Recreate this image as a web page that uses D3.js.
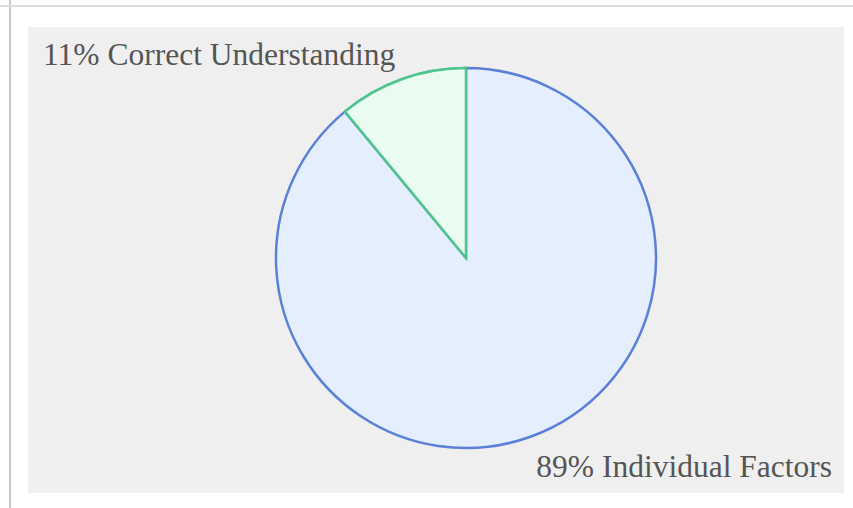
<!DOCTYPE html>
<html>
<head>
<meta charset="utf-8">
<script src="https://cdn.jsdelivr.net/npm/d3@7"></script>
<style>
	body { margin: 0; background: #fff; }
	.label { font-family: "Liberation Serif", "DejaVu Serif", serif; font-size: 31.5px; fill: #555; }
</style>
</head>
<body>
<svg id="chart" width="853" height="508"></svg>
<script>
'use strict';

var categories = ["Correct Understanding", "Individual Factors"];
var percents = [11, 89];
var FILLS = ["#eafbf1", "#e5eefc"];
var STROKES = ["#4fc48e", "#5a80d8"];

var svg = d3.select("#chart");

// outer frame and grey panel
svg.append("line").attr("x1", 10).attr("x2", 10).attr("y1", 0).attr("y2", 508)
	.attr("stroke", "#c8c8c8").attr("stroke-width", 2);
svg.append("line").attr("x1", 0).attr("x2", 853).attr("y1", 6).attr("y2", 6)
	.attr("stroke", "#dedede").attr("stroke-width", 2);
svg.append("rect").attr("x", 28).attr("y", 27).attr("width", 816).attr("height", 466)
	.attr("fill", "#efefef");

var cx = 466, cy = 258, radius = 190;

var pie = d3.pie()
	.sort(null)
	.startAngle(0)
	.endAngle(-2 * Math.PI)
	.value(function(d) { return d; });

var arc = d3.arc()
	.innerRadius(0)
	.outerRadius(radius);

var g = svg.append("g").attr("transform", "translate(" + cx + "," + cy + ")");

g.selectAll("path")
	.data(pie(percents))
	.enter().append("path")
		.attr("d", arc)
		.attr("fill", function(d, i) { return FILLS[i]; })
		.attr("stroke", function(d, i) { return STROKES[i]; })
		.attr("stroke-width", 2.5)
		.attr("stroke-linejoin", "round");

// redraw green slice on top so its edges are visible
g.append("path")
	.datum(pie(percents)[0])
	.attr("d", arc)
	.attr("fill", FILLS[0])
	.attr("stroke", STROKES[0])
	.attr("stroke-width", 2.5);

svg.append("text")
	.attr("class", "label")
	.attr("x", 43).attr("y", 65)
	.text(percents[0] + "% " + categories[0]);

svg.append("text")
	.attr("class", "label")
	.attr("x", 832).attr("y", 477)
	.attr("text-anchor", "end")
	.text(percents[1] + "% " + categories[1]);
</script>
</body>
</html>
